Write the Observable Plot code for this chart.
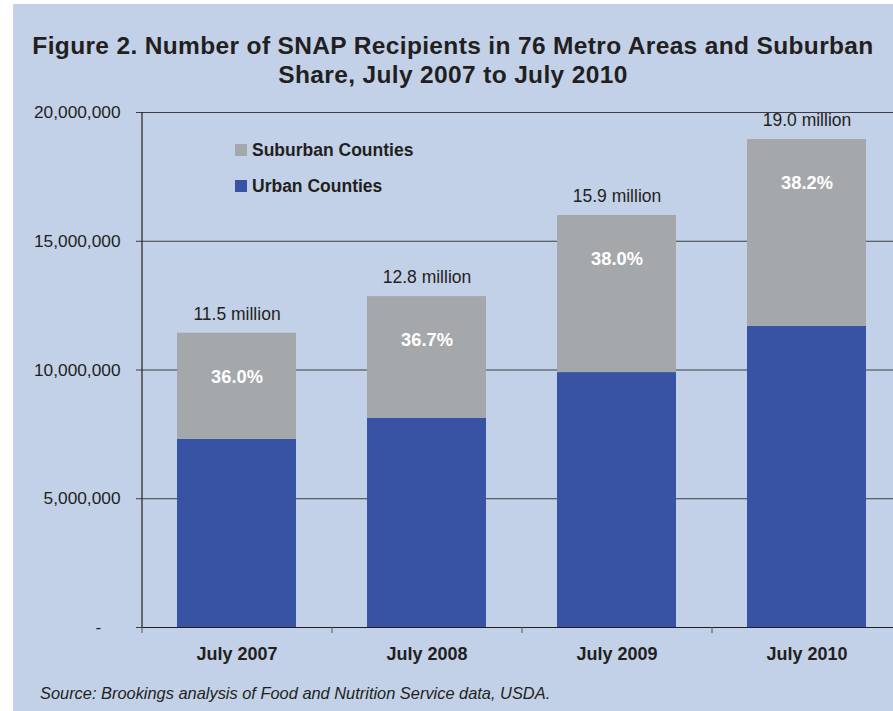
<!DOCTYPE html>
<html><head><meta charset="utf-8">
<script src="https://cdn.jsdelivr.net/npm/d3@7"></script>
<script src="https://cdn.jsdelivr.net/npm/@observablehq/plot@0.6"></script>
<style>
html,body{margin:0;padding:0;overflow:hidden;background:#fff;width:893px;height:711px}
#wrap{position:relative;width:893px;height:711px;overflow:hidden;font-family:"Liberation Sans",Arial,sans-serif;color:#231f20}
#bg{position:absolute;left:13px;top:4px;right:0;bottom:0;background:#c2d1e7}
#title{position:absolute;left:13px;right:0;top:31px;text-align:center;font-weight:bold;font-size:24.5px;letter-spacing:0.35px;line-height:29px;white-space:nowrap}
#chart{position:absolute;left:0;top:0}
#chart svg{max-width:none !important;height:711px !important}
#legend{position:absolute;left:235px;top:141px;font-weight:bold;font-size:17.5px}
.row{display:flex;align-items:center;height:18px;margin-bottom:18px;white-space:nowrap}
.sw{width:12px;height:12px;margin-right:5px}
#source{position:absolute;left:40px;top:684px;font-style:italic;font-size:16.4px;line-height:18px;white-space:nowrap}
</style>
</head><body>
<div id="wrap">
  <div id="bg"></div>
  <div id="chart"></div>
  <div id="title">Figure 2. Number of SNAP Recipients in 76 Metro Areas and Suburban<br>Share, July 2007 to July 2010</div>
  <div id="legend"></div>
  <div id="source">Source: Brookings analysis of Food and Nutrition Service data, USDA.</div>
</div>
<script>
const years = ["July 2007", "July 2008", "July 2009", "July 2010"];
const urban = [7310000, 8130000, 9900000, 11700000];
const suburban = [4120000, 4720000, 6100000, 7250000];
const totalLabels = ["11.5 million", "12.8 million", "15.9 million", "19.0 million"];
const shareLabels = ["36.0%", "36.7%", "38.0%", "38.2%"];
const seriesNames = ["Urban Counties", "Suburban Counties"];
const seriesColors = ["#3853a4", "#a5a8ab"];
const legendOrder = ["Suburban Counties", "Urban Counties"];
const yTicks = [0, 5000000, 10000000, 15000000, 20000000];

const rows = years.flatMap((y, i) => [
  {year: y, series: seriesNames[0], value: urban[i]},
  {year: y, series: seriesNames[1], value: suburban[i]}
]);
const totals = years.map((y, i) => ({year: y, total: urban[i] + suburban[i], label: totalLabels[i], share: shareLabels[i]}));

const ink = "#231f20";
const grid = "#3c3c44";

const chart = Plot.plot({
  width: 902,
  height: 711,
  marginLeft: 141,
  marginRight: 1,
  marginTop: 112,
  marginBottom: 84,
  style: {background: "transparent", fontFamily: "'Liberation Sans', Arial, sans-serif", color: ink, overflow: "visible", maxWidth: "none"},
  x: {domain: years, paddingInner: 0.374, paddingOuter: 0.187},
  y: {domain: [0, 20000000]},
  color: {domain: seriesNames, range: seriesColors},
  marks: [
    Plot.ruleY(yTicks.slice(1), {stroke: grid, strokeWidth: 1}),
    Plot.barY(rows, {x: "year", y: "value", fill: "series", order: seriesNames}),
    Plot.ruleY([0], {stroke: ink, strokeWidth: 1.2}),
    Plot.ruleX([years[0]], {x: d => d, dx: -95, stroke: ink, strokeWidth: 1.2}),
    Plot.ruleX(years, {x: d => d, dx: -95, insetTop: 515, insetBottom: -6, stroke: "#555", strokeWidth: 1}),
    Plot.axisY({ticks: yTicks, tickSize: 5, tickPadding: 16, fontSize: 17.3, stroke: grid,
      tickFormat: d => d === 0 ? "-\u00a0\u00a0\u00a0\u00a0" : d3.format(",")(d), label: null}),
    Plot.axisX({tickSize: 0, tickPadding: 20, fontSize: 18, fontWeight: "bold", label: null}),
    Plot.text(totals, {x: "year", y: "total", text: "label", dy: -19, fontSize: 17.5, fill: ink}),
    Plot.text(totals, {x: "year", y: "total", text: "share", dy: 44, fontSize: 18.3, fontWeight: "bold", fill: "white"})
  ]
});
document.getElementById("chart").appendChild(chart);

const legend = document.getElementById("legend");
legendOrder.forEach(name => {
  const row = document.createElement("div");
  row.className = "row";
  const sw = document.createElement("span");
  sw.className = "sw";
  sw.style.background = seriesColors[seriesNames.indexOf(name)];
  const t = document.createElement("span");
  t.textContent = name;
  row.appendChild(sw);
  row.appendChild(t);
  legend.appendChild(row);
});
</script>
</body></html>
